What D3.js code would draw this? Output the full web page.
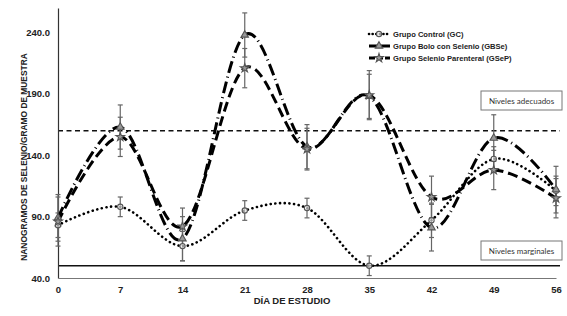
<!DOCTYPE html>
<html>
<head>
<meta charset="utf-8">
<script src="https://cdn.jsdelivr.net/npm/d3@7"></script>
<style>
  body { margin: 0; background: #fff; }
  svg { display: block; }
</style>
</head>
<body>
<div id="chart"></div>
<script>
const days = [0, 7, 14, 21, 28, 35, 42, 49, 56]
const yTicks = [40, 90, 140, 190, 240]

const gcValues = [83, 98, 66, 95, 97, 50, 87, 137, 111]
const gcErrors = [10, 8, 12, 8, 8, 8, 14, 10, 12]
const gbseValues = [89, 163, 72, 238, 147, 188, 81, 154, 112]
const gbseErrors = [19, 18, 18, 18, 18, 18, 19, 19, 19]
const gsepValues = [86, 155, 82, 211, 145, 189, 106, 128, 105]
const gsepErrors = [20, 16, 15, 16, 17, 20, 17, 16, 16]

const seriesNames = ['Grupo Control (GC)', 'Grupo Bolo con Selenio (GBSe)', 'Grupo Selenio Parenteral (GSeP)']
const adequateLevel = 160
const marginalLevel = 50

const width = 567
const height = 316

const svg = d3.select('#chart')
  .append('svg')
  .attr('width', width)
  .attr('height', height)

const xScale = d3.scaleLinear().domain([0, 56]).range([58, 556])
const yScale = d3.scaleLinear().domain([40, 260]).range([278, 8])

const series = [
  { name: seriesNames[0], values: gcValues, errors: gcErrors, dash: '0.1 4.6', width: 2.6, cap: 'round', symbol: 'circle' },
  { name: seriesNames[1], values: gbseValues, errors: gbseErrors, dash: '12 4 1 4', width: 3, cap: 'butt', symbol: 'triangle' },
  { name: seriesNames[2], values: gsepValues, errors: gsepErrors, dash: '10 5', width: 3, cap: 'butt', symbol: 'star' }
]

// reference lines
svg.append('line')
  .attr('x1', xScale(0)).attr('x2', 560)
  .attr('y1', yScale(adequateLevel)).attr('y2', yScale(adequateLevel))
  .attr('stroke', '#111').attr('stroke-width', 1.3)
  .attr('stroke-dasharray', '5 3.5')

svg.append('line')
  .attr('x1', xScale(0)).attr('x2', 560)
  .attr('y1', yScale(marginalLevel)).attr('y2', yScale(marginalLevel))
  .attr('stroke', '#111').attr('stroke-width', 1.3)

// axes
const yAxis = svg.append('g')
  .attr('transform', `translate(${xScale(0)},0)`)
  .call(d3.axisLeft(yScale).tickValues(yTicks).tickSize(0).tickPadding(8).tickFormat(d3.format('.1f')))
yAxis.select('.domain').attr('stroke', '#333').attr('stroke-width', 1.2)
yAxis.selectAll('text')
  .attr('font-family', 'Liberation Sans, Arial, sans-serif')
  .attr('font-weight', 'bold').attr('font-size', 9.5).attr('fill', '#222')

const xAxis = svg.append('g')
  .attr('transform', `translate(0,${yScale(40)})`)
  .call(d3.axisBottom(xScale).tickValues(days).tickSize(0).tickPadding(8))
xAxis.select('.domain').attr('stroke', '#777').attr('stroke-width', 1.2)
xAxis.selectAll('text')
  .attr('font-family', 'Liberation Sans, Arial, sans-serif')
  .attr('font-weight', 'bold').attr('font-size', 9.5).attr('fill', '#222')

svg.append('text')
  .attr('x', 292).attr('y', 304)
  .attr('text-anchor', 'middle')
  .attr('font-family', 'Liberation Sans, Arial, sans-serif')
  .attr('font-weight', 'bold').attr('font-size', 9.5).attr('fill', '#222')
  .text('DÍA DE ESTUDIO')

svg.append('text')
  .attr('transform', 'translate(27,157) rotate(-90)')
  .attr('text-anchor', 'middle')
  .attr('font-family', 'Liberation Sans, Arial, sans-serif')
  .attr('font-weight', 'bold').attr('font-size', 8.4).attr('fill', '#222')
  .text('NANOGRAMOS DE SELENIO/GRAMO DE MUESTRA')

// error bars
series.forEach(s => {
  const g = svg.append('g').attr('stroke', '#666').attr('stroke-width', 1.2)
  days.forEach((d, i) => {
    const x = xScale(d)
    const top = yScale(s.values[i] + s.errors[i])
    const bottom = yScale(s.values[i] - s.errors[i])
    g.append('line').attr('x1', x).attr('x2', x).attr('y1', top).attr('y2', bottom)
    g.append('line').attr('x1', x - 2.5).attr('x2', x + 2.5).attr('y1', top).attr('y2', top)
    g.append('line').attr('x1', x - 2.5).attr('x2', x + 2.5).attr('y1', bottom).attr('y2', bottom)
  })
})

// lines
const lineGenerator = d3.line()
  .x((d, i) => xScale(days[i]))
  .y(d => yScale(d))
  .curve(d3.curveCardinal.tension(0))

series.forEach(s => {
  svg.append('path')
    .attr('d', lineGenerator(s.values))
    .attr('fill', 'none')
    .attr('stroke', '#000')
    .attr('stroke-width', s.width)
    .attr('stroke-linecap', s.cap)
    .attr('stroke-dasharray', s.dash)
})

const symbolTypes = { circle: d3.symbolCircle, triangle: d3.symbolTriangle, star: d3.symbolStar }
const symbolSizes = { circle: 22, triangle: 24, star: 24 }

const drawMarker = (sel, x, y, type) => {
  sel.append('path')
    .attr('d', d3.symbol().type(symbolTypes[type]).size(symbolSizes[type])())
    .attr('transform', `translate(${x},${y})`)
    .attr('fill', type === 'circle' ? '#fff' : '#999')
    .attr('fill-opacity', type === 'circle' ? 0.6 : 1)
    .attr('stroke', '#555')
    .attr('stroke-width', 1.1)
}

series.forEach(s => {
  const g = svg.append('g')
  days.forEach((d, i) => drawMarker(g, xScale(d), yScale(s.values[i]), s.symbol))
})

// legend
const legend = svg.append('g')
series.forEach((s, i) => {
  const y = 34 + i * 12
  legend.append('line')
    .attr('x1', 369).attr('x2', 390).attr('y1', y).attr('y2', y)
    .attr('stroke', '#000').attr('stroke-width', s.width)
    .attr('stroke-linecap', s.cap)
    .attr('stroke-dasharray', i === 0 ? '0.1 3.5' : (i === 1 ? '9 3' : '6 2'))
  drawMarker(legend, 379, y, s.symbol)
  legend.append('text')
    .attr('x', 393).attr('y', y + 3)
    .attr('font-family', 'Liberation Sans, Arial, sans-serif')
    .attr('font-weight', 'bold').attr('font-size', 7.6).attr('fill', '#222')
    .text(s.name)
})

// level boxes
const boxes = [
  { label: 'Niveles adecuados', y: 91 },
  { label: 'Niveles marginales', y: 241 }
]
boxes.forEach(b => {
  svg.append('rect')
    .attr('x', 481).attr('y', b.y).attr('width', 81).attr('height', 19)
    .attr('fill', '#fff').attr('stroke', '#777').attr('stroke-width', 1)
  svg.append('text')
    .attr('x', 521.5).attr('y', b.y + 12.5)
    .attr('text-anchor', 'middle')
    .attr('font-family', 'Lato, Open Sans, sans-serif')
    .attr('font-size', 8).attr('fill', '#333')
    .text(b.label)
})
</script>
</body>
</html>
